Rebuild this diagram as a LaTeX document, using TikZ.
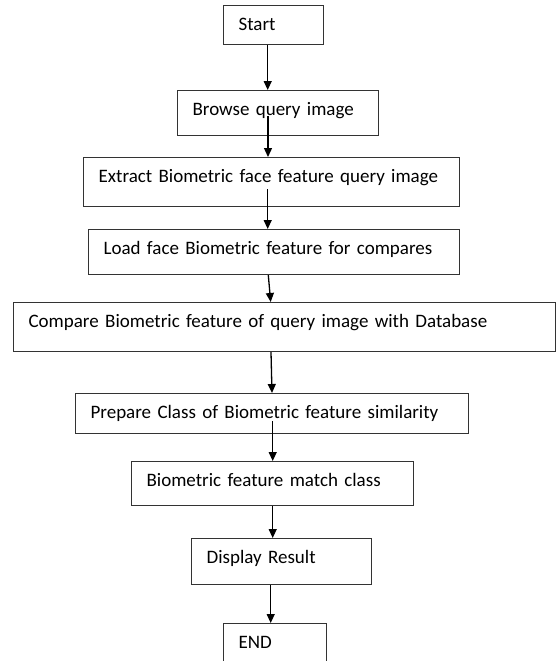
\documentclass[tikz,border=0pt]{standalone}
\usepackage{fontspec}
\setmainfont{Carlito}
\usetikzlibrary{arrows.meta}

\tikzset{
  stepbox/.style n args={2}{draw=black!80, line width=1.2pt, anchor=north west,
    inner xsep=15pt, inner ysep=0pt, align=left, text width=#1-30pt,
    text height=25pt, text depth=#2-25pt, font=\fontsize{19}{22}\selectfont},
  flow/.style={draw=black, line width=1.3pt, -{Triangle[length=9pt,width=8pt]}}
}

\begin{document}
\begin{tikzpicture}[x=1pt, y=1pt]
			%%%%% START %%%%%
			\useasboundingbox (0,0) rectangle (556,-661);
			
			\node[stepbox={100pt}{39pt}] (start) at (223,-5) {Start};
			\node[stepbox={201pt}{45pt}] (browse) at (177,-90) {Browse query image};
			\node[stepbox={376pt}{49pt}] (extract) at (83,-157) {Extract Biometric face feature query image};
			\node[stepbox={371pt}{45pt}] (load) at (88,-229) {Load face Biometric feature for compares};
			\node[stepbox={542pt}{49pt}] (compare) at (13,-302) {Compare Biometric feature of query image with Database};
			\node[stepbox={393pt}{40pt}] (prepare) at (75,-393) {Prepare Class of Biometric feature similarity};
			\node[stepbox={282pt}{44pt}] (match) at (131,-461) {Biometric feature match class};
			\node[stepbox={180pt}{46pt}] (display) at (191,-538) {Display Result};
			\node[stepbox={103pt}{38pt}] (end) at (223,-623) {END};
			
			\draw[flow] (start.south -| 267.7,0) -- (browse.north -| 267.7,0);
			\draw[flow] (browse.south -| 268,0) ++(0,20) -- (extract.north -| 268,0);
			\draw[flow] (extract.south -| 267.7,0) ++(0,18) -- (load.north -| 267.7,0);
			\draw[flow] (load.south -| 268.3,0) -- (compare.north -| 270.7,0);
			\draw[flow] (compare.south -| 271,0) -- (prepare.north -| 272,0);
			\draw[flow] (prepare.south -| 272.7,0) ++(0,13) -- (match.north -| 272.7,0);
			\draw[flow] (match.south -| 272.7,0) -- (display.north -| 272.7,0);
			\draw[flow] (display.south -| 270.7,0) -- (end.north -| 270.7,0);
			
			%%%%% END %%%%%
\end{tikzpicture}
\end{document}
